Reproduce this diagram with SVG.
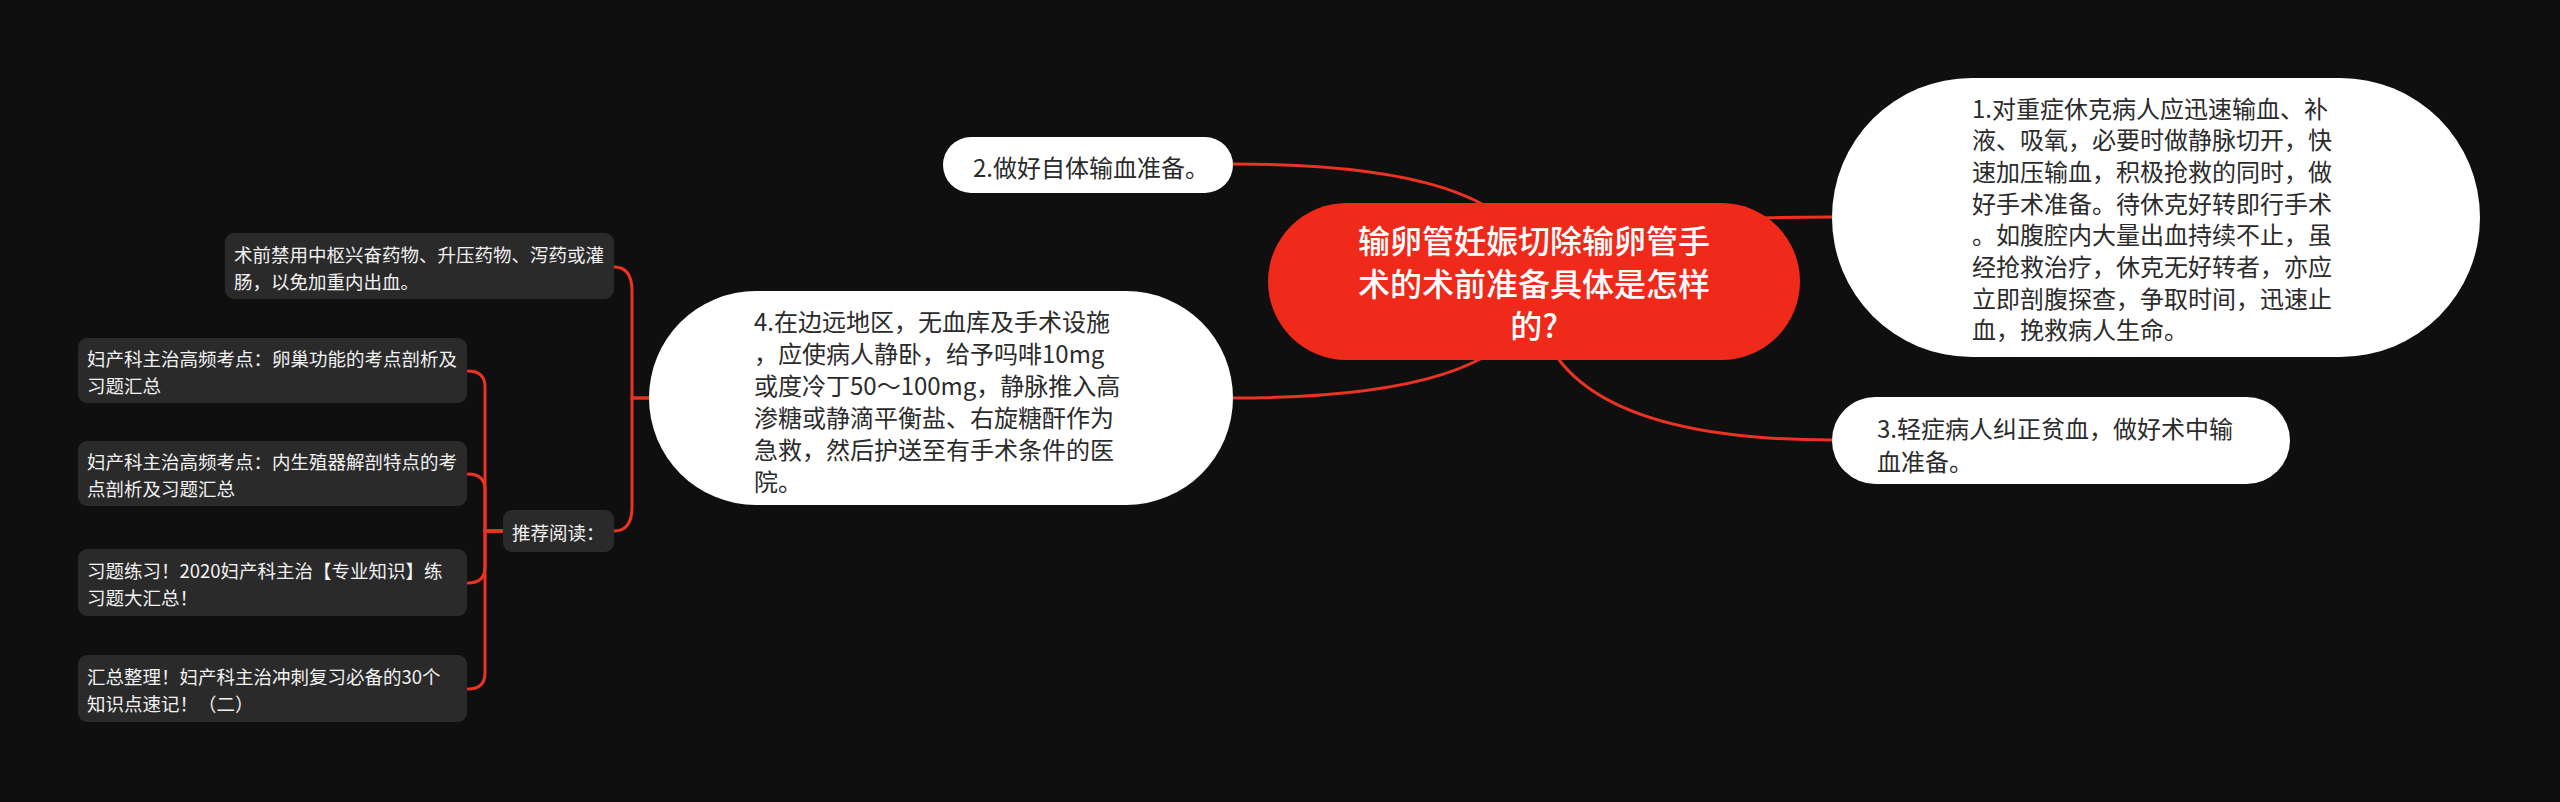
<svg xmlns="http://www.w3.org/2000/svg" width="2560" height="802" viewBox="0 0 2560 802">
<style>
text{font-family:"Noto Sans CJK SC","Noto Sans",sans-serif;dominant-baseline:central}
.c{fill:none;stroke:#EB3323;stroke-width:3;stroke-linecap:round}
.w{fill:#FFFFFF}
.wt{fill:#2B2B2B;font-size:24px}
.g{fill:#2A2A2A}
.gt{fill:#F2F2F2;font-size:18.5px}
.ct{fill:#FFFFFF;font-size:32px;font-weight:500;text-anchor:middle}
</style>
<rect x="0" y="0" width="2560" height="802" fill="#0F0F0F"/>
<g id="connectors">
<path class="c" d="M1534,281 Q1534,217 1832,217"/>
<path class="c" d="M1534,281 Q1534,164 1233,164"/>
<path class="c" d="M1534,281 Q1534,440 1832,440"/>
<path class="c" d="M1534,281 Q1534,398 1233,398"/>
<path class="c" d="M650,398 H632 V291 Q632,267 614,267"/>
<path class="c" d="M650,398 H632 V507 Q632,531 614,531"/>
<path class="c" d="M503,531 H485 V387 Q485,371 468,371"/>
<path class="c" d="M503,531 H485 V490 Q485,474 468,474"/>
<path class="c" d="M503,531 H485 V567 Q485,583 468,583"/>
<path class="c" d="M503,531 H485 V673 Q485,689 468,689"/>
</g>
<g id="center">
<rect x="1268" y="203" width="532" height="157" rx="78.5" fill="#F02A1B"/>
<text class="ct" x="1534" y="239">输卵管妊娠切除输卵管手</text>
<text class="ct" x="1534" y="281.5">术的术前准备具体是怎样</text>
<text class="ct" x="1534" y="324">的?</text>
</g>
<g id="n1">
<rect class="w" x="1832" y="78" width="648" height="279" rx="139.5"/>
<text class="wt" x="1972" y="107">1.对重症休克病人应迅速输血、补</text>
<text class="wt" x="1972" y="138.7">液、吸氧，必要时做静脉切开，快</text>
<text class="wt" x="1972" y="170.4">速加压输血，积极抢救的同时，做</text>
<text class="wt" x="1972" y="202.1">好手术准备。待休克好转即行手术</text>
<text class="wt" x="1972" y="233.8">。如腹腔内大量出血持续不止，虽</text>
<text class="wt" x="1972" y="265.5">经抢救治疗，休克无好转者，亦应</text>
<text class="wt" x="1972" y="297.2">立即剖腹探查，争取时间，迅速止</text>
<text class="wt" x="1972" y="328.9">血，挽救病人生命。</text>
</g>
<g id="n2">
<rect class="w" x="943" y="137" width="290" height="56" rx="28"/>
<text class="wt" x="973" y="166">2.做好自体输血准备。</text>
</g>
<g id="n3">
<rect class="w" x="1832" y="397" width="458" height="87" rx="43.5"/>
<text class="wt" x="1877" y="427">3.轻症病人纠正贫血，做好术中输</text>
<text class="wt" x="1877" y="460">血准备。</text>
</g>
<g id="n4">
<rect class="w" x="649" y="291" width="584" height="214" rx="107"/>
<text class="wt" x="754" y="320">4.在边远地区，无血库及手术设施</text>
<text class="wt" x="754" y="352">，应使病人静卧，给予吗啡10mg</text>
<text class="wt" x="754" y="384">或度冷丁50～100mg，静脉推入高</text>
<text class="wt" x="754" y="416">渗糖或静滴平衡盐、右旋糖酐作为</text>
<text class="wt" x="754" y="448">急救，然后护送至有手术条件的医</text>
<text class="wt" x="754" y="480">院。</text>
</g>
<g id="n4a">
<rect class="g" x="225" y="233" width="389" height="66" rx="9"/>
<text class="gt" x="234" y="254">术前禁用中枢兴奋药物、升压药物、泻药或灌</text>
<text class="gt" x="234" y="281">肠，以免加重内出血。</text>
</g>
<g id="n4b">
<rect class="g" x="503" y="510" width="111" height="42" rx="9"/>
<text class="gt" x="512" y="532">推荐阅读：</text>
</g>
<g id="r1">
<rect class="g" x="78" y="338" width="389" height="65" rx="9"/>
<text class="gt" x="87" y="358">妇产科主治高频考点：卵巢功能的考点剖析及</text>
<text class="gt" x="87" y="385">习题汇总</text>
</g>
<g id="r2">
<rect class="g" x="78" y="441" width="389" height="65" rx="9"/>
<text class="gt" x="87" y="461">妇产科主治高频考点：内生殖器解剖特点的考</text>
<text class="gt" x="87" y="488">点剖析及习题汇总</text>
</g>
<g id="r3">
<rect class="g" x="78" y="549" width="389" height="67" rx="9"/>
<text class="gt" x="87" y="570">习题练习！2020妇产科主治【专业知识】练</text>
<text class="gt" x="87" y="597">习题大汇总！</text>
</g>
<g id="r4">
<rect class="g" x="78" y="655" width="389" height="67" rx="9"/>
<text class="gt" x="87" y="676">汇总整理！妇产科主治冲刺复习必备的30个</text>
<text class="gt" x="87" y="703">知识点速记！（二）</text>
</g>
</svg>
